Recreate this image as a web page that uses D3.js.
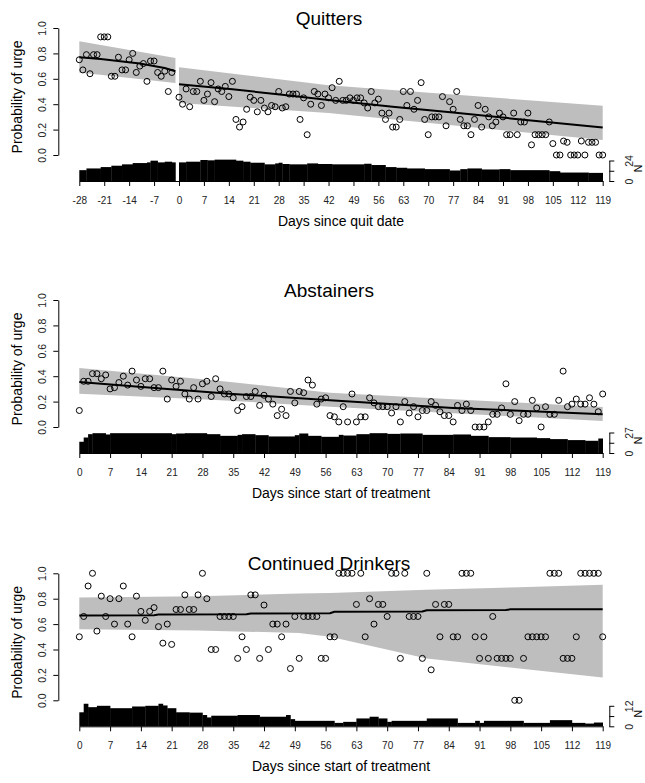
<!DOCTYPE html>
<html>
<head>
<meta charset="utf-8">
<script src="https://cdn.jsdelivr.net/npm/d3@7"></script>
<style>
  body { margin: 0; background: #fff; }
  svg { display: block; }
  text { font-family: "Liberation Sans", Arial, sans-serif; }
</style>
</head>
<body>
<div id="chart"></div>
<script>
// ---- data ----
// daily mean urge, Quitters: days -28..-2 then 0..119
const quitPreUrge = [.75,.67,.79,.64,.79,.79,.93,.93,.93,.62,.62,.77,.67,.67,.75,.80,.65,.70,.72,.58,.74,.74,.65,.62,.66,.50,.65];
const quitPostUrge = [
  .455,.40,.52,.38,.50,.50,.58,.43,.48,.57,
  .42,.52,.50,.54,.46,.58,.28,.22,.26,.36,
  .455,.43,.34,.43,.37,.34,.39,.38,.50,.37,
  .38,.48,.48,.48,.28,.45,.16,.40,.50,.48,
  .39,.48,.45,.53,.43,.58,.43,.43,.45,.43,
  .45,.45,.41,.37,.50,.41,.44,.33,.28,.33,
  .22,.22,.28,.50,.39,.50,.36,.43,.57,.28,
  .16,.30,.30,.30,.46,.23,.42,.36,.50,.28,
  .23,.23,.16,.28,.39,.22,.36,.30,.23,.26,
  .33,.30,.16,.16,.33,.16,.26,.26,.33,.08,
  .16,.16,.16,.16,.26,.09,0,0,.11,.10,
  0,0,0,.11,0,.10,.10,.10,0,0];
// Abstainers: days 0..119
const abstUrge = [
  .13,.36,.36,.42,.42,.38,.41,.30,.31,.35,
  .40,.33,.44,.37,.32,.38,.38,.31,.31,.44,
  .22,.37,.32,.36,.26,.22,.31,.22,.34,.36,
  .24,.38,.30,.26,.26,.23,.13,.16,.24,.24,
  .28,.17,.25,.22,.18,.09,.14,.09,.28,.19,
  .28,.27,.37,.33,.18,.22,.23,.09,.08,.04,
  .16,.04,.26,.04,.08,.08,.23,.19,.16,.16,
  .16,.11,.16,.04,.20,.11,.16,.08,.13,.13,
  .20,.17,.12,.09,.09,.04,.17,.13,.18,.13,
  0,0,0,.04,.10,.10,.15,.34,.10,.20,
  .05,.10,.10,.21,.15,0,.16,.10,.10,.21,
  .44,.16,.18,.22,.18,.18,.23,.18,.12,.26];
// Continued drinkers: days 0..119
const drinkUrge = [
  .50,.66,.90,1,.545,.82,.66,.80,.60,.80,
  .90,.60,.50,.82,.70,.63,.70,.73,.58,.45,
  .60,.44,.715,.715,.83,.715,.715,.83,1,.80,
  .40,.40,.66,.66,.66,.66,.33,.50,.40,.83,
  .83,.33,.75,.40,.60,.60,.50,.60,.25,.66,
  .33,.66,.66,.66,.66,.33,.33,.50,.50,1,
  1,1,1,.755,1,.50,.80,.60,.755,.755,
  .66,1,1,.33,1,.66,.66,.66,.33,1,
  .24,.755,.50,.755,.755,.50,.50,1,1,1,
  .50,.33,.50,.33,.66,.33,.33,.33,.33,0,
  0,.33,.50,.50,.50,.50,.50,1,1,1,
  .33,.33,.33,.50,1,1,1,1,1,.50];

// model fit: [day, fitted]
const quitPreFit = [[-28,.77],[-22,.755],[-11,.72],[-4,.685],[-1,.66]];
const quitPostFit = [[0,.558],[15,.518],[29,.474],[42,.434],[60,.38],[77,.334],[96,.28],[119,.216]];
const abstFit = [[0,.355],[20,.30],[35,.26],[57,.21],[85,.15],[119,.10]];
const drinkFit = [[0,.668],[17,.670],[18,.676],[38,.678],[39,.684],[57,.686],[58,.697],[78,.699],[79,.709],[97,.711],[98,.716],[119,.717]];

// confidence band: [day, lower, upper]
const quitPreBand = [[-28,.65,.895],[-1,.566,.763]];
const quitPostBand = [[0,.41,.69],[42,.33,.55],[119,.118,.387]];
const abstBand = [[0,.262,.465],[30,.215,.37],[57,.16,.27],[119,.047,.157]];
const drinkBand = [[0,.56,.81],[27,.55,.82],[50,.53,.84],[57,.50,.845],[79,.33,.87],[100,.25,.89],[119,.18,.91]];

// participants reporting per day: [fromDay, toDay, N]
const quitN = [[-28,-26,12.7],[-26,-22,14.7],[-22,-19,16.3],[-19,-16,17.9],[-16,-13,19.5],[-13,-9,21],[-9,-8,21.8],[-8,-6,23.8],[-6,-4,21.8],[-4,-2,22.6],[-2,-1,21.8],
  [0,2,21.8],[2,6,22.6],[6,8,24.6],[8,10,24.2],[10,16,25],[16,18,23.8],[18,20,22.6],[20,24,21.4],[24,27,19.5],[27,28,20.6],[28,29,21.4],[29,31,19.9],[31,36,19.5],[36,39,20.6],[39,43,19.9],[43,52,19.5],[52,54,20.2],[54,58,18.7],[58,61,16.3],[61,64,15.5],[64,69,14.7],[69,76,13.9],[76,79,12.3],[79,81,13.9],[81,85,14.7],[85,90,13.5],[90,93,13.9],[93,104,12.7],[104,107,11.5],[107,115,9.9],[115,119,9.5]];
const abstN = [[0,1,14.8],[1,2,20.4],[2,3,24.8],[3,6,26.1],[6,7,24.4],[7,21,26.1],[21,22,24.8],[22,24,25.7],[24,29,26.1],[29,32,24.8],[32,36,22.6],[36,37,23.9],[37,40,24.8],[40,43,23.5],[43,49,21.8],[49,50,23.5],[50,52,25.7],[52,55,22.6],[55,59,21.3],[59,60,23.9],[60,63,23],[63,66,24.8],[66,70,26.1],[70,73,25.2],[73,78,25.7],[78,85,23.9],[85,89,24.4],[89,93,22.6],[93,98,20.9],[98,104,20.4],[104,107,19.6],[107,111,18.3],[111,115,17],[115,118,16.1],[118,119,19.1]];
const drinkN = [[0,1,8.2],[1,2,13.2],[2,4,11.2],[4,7,12],[7,12,10.6],[12,15,11.6],[15,18,12],[18,19,13.2],[19,20,12.2],[20,22,10.6],[22,25,8.2],[25,28,8],[28,29,6.6],[29,30,5.2],[30,36,6.2],[36,41,6.6],[41,47,5.6],[47,48,6.6],[48,49,4.2],[49,58,3.2],[58,60,2],[60,63,2.6],[63,66,4.6],[66,68,5.6],[68,70,4.6],[70,71,2.6],[71,79,3.2],[79,86,4.6],[86,90,2],[90,91,3.2],[91,92,2],[92,101,3.2],[101,107,2],[107,112,3.6],[112,115,2],[115,117,1.6],[117,119,2.2]];

const quitTicks = d3.range(-28, 120, 7);
const treatTicks = d3.range(0, 120, 7);
const yTicks = [0, .2, .4, .6, .8, 1];

const toPts = (vals, start) => vals.map((v, i) => [start + i, v]);

const panels = [
  {title: "Quitters", xlab: "Days since quit date", dom: [-28, 119], ticks: quitTicks,
   pts: toPts(quitPreUrge, -28).concat(toPts(quitPostUrge, 0)),
   fits: [quitPreFit, quitPostFit], bands: [quitPreBand, quitPostBand], n: quitN, nMax: 24},
  {title: "Abstainers", xlab: "Days since start of treatment", dom: [0, 119], ticks: treatTicks,
   pts: toPts(abstUrge, 0), fits: [abstFit], bands: [abstBand], n: abstN, nMax: 27},
  {title: "Continued Drinkers", xlab: "Days since start of treatment", dom: [0, 119], ticks: treatTicks,
   pts: toPts(drinkUrge, 0), fits: [drinkFit], bands: [drinkBand], n: drinkN, nMax: 12}
];
const panelTop = [0, 272, 545.3];

const svg = d3.select("#chart").append("svg")
    .attr("width", 645)
    .attr("height", 783);

function drawPanel(p, oy) {
    const x = d3.scaleLinear().domain(p.dom).range([79.3, 602.7]);
    const y = d3.scaleLinear().domain([0, 1]).range([oy + 155, oy + 28]);
    const yN = d3.scaleLinear().domain([0, p.nMax]).range([oy + 181, oy + 160.5]);
    const g = svg.append("g");

    // grey confidence band
    p.bands.forEach(b => {
        g.append("path").datum(b)
            .attr("d", d3.area().x(d => x(d[0])).y0(d => y(d[1])).y1(d => y(d[2])))
            .attr("fill", "#bebebe");
    });

    // fitted line
    p.fits.forEach(f => {
        g.append("path").datum(f)
            .attr("d", d3.line().x(d => x(d[0])).y(d => y(d[1])))
            .attr("fill", "none")
            .attr("stroke", "#000")
            .attr("stroke-width", 2);
    });

    // daily points
    g.selectAll("circle").data(p.pts).join("circle")
        .attr("cx", d => x(d[0]))
        .attr("cy", d => y(d[1]))
        .attr("r", 3)
        .attr("fill", "none")
        .attr("stroke", "#000")
        .attr("stroke-width", 1);

    // N histogram
    g.selectAll("rect").data(p.n).join("rect")
        .attr("x", d => x(d[0]))
        .attr("width", d => x(d[1]) - x(d[0]) + 0.3)
        .attr("y", d => yN(d[2]))
        .attr("height", d => yN(0) - yN(d[2]))
        .attr("fill", "#000");

    // y axis
    const ya = g.append("g")
        .attr("transform", "translate(58.3,0)")
        .call(d3.axisLeft(y).tickValues(yTicks).tickSize(5).tickSizeOuter(0).tickFormat(d3.format(".1f")));
    ya.selectAll("text")
        .attr("transform", "rotate(-90)")
        .attr("x", 0).attr("y", -12.3).attr("dy", 0)
        .attr("text-anchor", "middle")
        .attr("font-size", 10.5)
        .attr("fill", "#222");

    // x axis (plain hyphen for negatives, as in the figure)
    const xa = g.append("g")
        .attr("transform", `translate(0,${oy + 181})`)
        .call(d3.axisBottom(x).tickValues(p.ticks).tickSize(5).tickSizeOuter(0).tickFormat(d => String(d)));
    xa.selectAll("text")
        .attr("y", 23).attr("dy", 0)
        .attr("font-size", 10)
        .attr("fill", "#222");

    // N axis on the right
    const na = g.append("g")
        .attr("transform", "translate(609.3,0)")
        .call(d3.axisRight(yN).tickValues([0, p.nMax / 2, p.nMax]).tickSize(5).tickSizeOuter(0)
            .tickFormat(d => d === p.nMax / 2 ? "" : String(d)));
    na.selectAll("text")
        .attr("transform", "rotate(-90)")
        .attr("x", 0).attr("y", 24.2).attr("dy", 0)
        .attr("text-anchor", "middle")
        .attr("font-size", 10.5)
        .attr("fill", "#222");

    [ya, xa, na].forEach(a => a.attr("font-family", null).attr("font-size", null));

    g.append("text")
        .attr("transform", `translate(642,${oy + 168.5}) rotate(-90)`)
        .attr("text-anchor", "middle")
        .attr("font-size", 10.5)
        .text("N");

    // titles
    g.append("text")
        .attr("x", 329).attr("y", oy + 24.5)
        .attr("text-anchor", "middle")
        .attr("font-size", 19)
        .text(p.title);

    g.append("text")
        .attr("x", 341).attr("y", oy + 226)
        .attr("text-anchor", "middle")
        .attr("font-size", 14)
        .text(p.xlab);

    g.append("text")
        .attr("transform", `translate(22,${oy + 97}) rotate(-90)`)
        .attr("text-anchor", "middle")
        .attr("font-size", 14)
        .text("Probability of urge");
}

panels.forEach((p, i) => drawPanel(p, panelTop[i]));
</script>
</body>
</html>
